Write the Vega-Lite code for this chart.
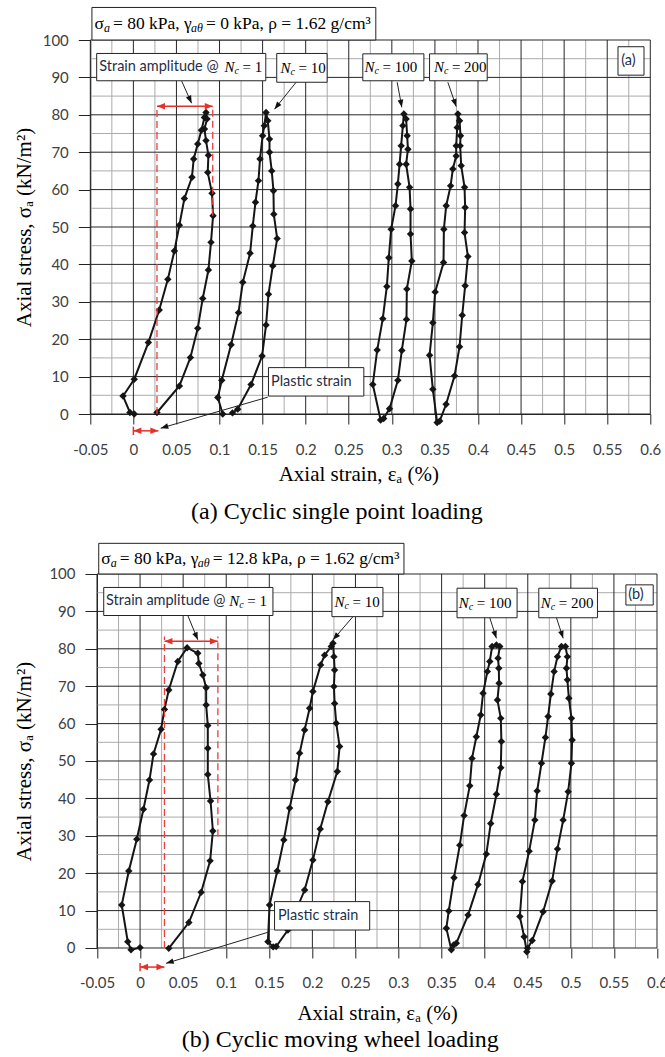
{
  "$schema": "https://vega.github.io/schema/vega-lite/v6.json",
  "padding": {"left": 12.3, "top": 6, "right": 0, "bottom": 0},
  "columns": 1,
  "spacing": 18,
  "align": "none",
  "config": {
    "view": {"stroke": null},
    "axis": {"grid": false, "labelFont": "Lato", "labelFontSize": 15, "labelColor": "#404040", "titleFont": "Liberation Serif", "titleFontSize": 21, "titleFontWeight": "normal", "titleColor": "#000000", "domainColor": "#222222", "tickColor": "#222222", "labelFlush": false, "labelOverlap": false},
    "axisX": {"tickSize": 10, "labelPadding": 18},
    "axisY": {"tickSize": 12, "labelPadding": 10},
    "title": {"font": "Liberation Serif", "fontSize": 24, "fontWeight": "normal", "color": "#000000"}
  },
  "datasets": {
    "grid": [
      {"k":"Mv","v":-0.05},{"k":"Mv","v":0},{"k":"Mv","v":0.05},{"k":"Mv","v":0.1},{"k":"Mv","v":0.15},{"k":"Mv","v":0.2},{"k":"Mv","v":0.25},{"k":"Mv","v":0.3},{"k":"Mv","v":0.35},{"k":"Mv","v":0.4},{"k":"Mv","v":0.45},{"k":"Mv","v":0.5},{"k":"Mv","v":0.55},{"k":"Mv","v":0.6},
      {"k":"mv","v":-0.025},{"k":"mv","v":0.025},{"k":"mv","v":0.075},{"k":"mv","v":0.125},{"k":"mv","v":0.175},{"k":"mv","v":0.225},{"k":"mv","v":0.275},{"k":"mv","v":0.325},{"k":"mv","v":0.375},{"k":"mv","v":0.425},{"k":"mv","v":0.475},{"k":"mv","v":0.525},{"k":"mv","v":0.575},
      {"k":"Mh","v":0},{"k":"Mh","v":10},{"k":"Mh","v":20},{"k":"Mh","v":30},{"k":"Mh","v":40},{"k":"Mh","v":50},{"k":"Mh","v":60},{"k":"Mh","v":70},{"k":"Mh","v":80},{"k":"Mh","v":90},{"k":"Mh","v":100},
      {"k":"mh","v":5},{"k":"mh","v":15},{"k":"mh","v":25},{"k":"mh","v":35},{"k":"mh","v":45},{"k":"mh","v":55},{"k":"mh","v":65},{"k":"mh","v":75},{"k":"mh","v":85},{"k":"mh","v":95}
    ],
    "curves": [
      {"p":"a","n":1,"i":0,"x":0.001,"y":0},{"p":"a","n":1,"i":1,"x":-0.004,"y":0.4},{"p":"a","n":1,"i":2,"x":-0.012,"y":4.8},{"p":"a","n":1,"i":3,"x":0.001,"y":9.3},{"p":"a","n":1,"i":4,"x":0.0174,"y":19.1},{"p":"a","n":1,"i":5,"x":0.030,"y":27.8},{"p":"a","n":1,"i":6,"x":0.040,"y":36.0},{"p":"a","n":1,"i":7,"x":0.0476,"y":43.6},{"p":"a","n":1,"i":8,"x":0.0534,"y":50.5},{"p":"a","n":1,"i":9,"x":0.0592,"y":57.6},{"p":"a","n":1,"i":10,"x":0.068,"y":63.3},{"p":"a","n":1,"i":11,"x":0.070,"y":68.2},{"p":"a","n":1,"i":12,"x":0.0747,"y":72.2},{"p":"a","n":1,"i":13,"x":0.079,"y":75.9},{"p":"a","n":1,"i":14,"x":0.0825,"y":79.3},{"p":"a","n":1,"i":15,"x":0.0843,"y":80.6},{"p":"a","n":1,"i":16,"x":0.0855,"y":78.9},{"p":"a","n":1,"i":17,"x":0.0825,"y":76.2},{"p":"a","n":1,"i":18,"x":0.0843,"y":73.1},{"p":"a","n":1,"i":19,"x":0.0871,"y":69.2},{"p":"a","n":1,"i":20,"x":0.0863,"y":64.6},{"p":"a","n":1,"i":21,"x":0.0913,"y":59.0},{"p":"a","n":1,"i":22,"x":0.0925,"y":53.0},{"p":"a","n":1,"i":23,"x":0.0901,"y":45.9},{"p":"a","n":1,"i":24,"x":0.0871,"y":38.5},{"p":"a","n":1,"i":25,"x":0.0805,"y":30.9},{"p":"a","n":1,"i":26,"x":0.0747,"y":22.9},{"p":"a","n":1,"i":27,"x":0.0662,"y":15.1},{"p":"a","n":1,"i":28,"x":0.0534,"y":7.5},{"p":"a","n":1,"i":29,"x":0.0274,"y":0.4},
      {"p":"a","n":10,"i":0,"x":0.1037,"y":0},{"p":"a","n":10,"i":1,"x":0.098,"y":4.4},{"p":"a","n":10,"i":2,"x":0.1026,"y":9.0},{"p":"a","n":10,"i":3,"x":0.1134,"y":18.5},{"p":"a","n":10,"i":4,"x":0.122,"y":27.1},{"p":"a","n":10,"i":5,"x":0.127,"y":35.2},{"p":"a","n":10,"i":6,"x":0.1355,"y":43.0},{"p":"a","n":10,"i":7,"x":0.1386,"y":50.3},{"p":"a","n":10,"i":8,"x":0.1417,"y":56.6},{"p":"a","n":10,"i":9,"x":0.1452,"y":62.4},{"p":"a","n":10,"i":10,"x":0.147,"y":68.2},{"p":"a","n":10,"i":11,"x":0.150,"y":74.4},{"p":"a","n":10,"i":12,"x":0.152,"y":77.1},{"p":"a","n":10,"i":13,"x":0.154,"y":80.6},{"p":"a","n":10,"i":14,"x":0.156,"y":78.4},{"p":"a","n":10,"i":15,"x":0.158,"y":73.5},{"p":"a","n":10,"i":16,"x":0.158,"y":70.0},{"p":"a","n":10,"i":17,"x":0.1606,"y":65.0},{"p":"a","n":10,"i":18,"x":0.1626,"y":59.7},{"p":"a","n":10,"i":19,"x":0.163,"y":53.4},{"p":"a","n":10,"i":20,"x":0.1669,"y":46.9},{"p":"a","n":10,"i":21,"x":0.1618,"y":39.6},{"p":"a","n":10,"i":22,"x":0.1568,"y":32.0},{"p":"a","n":10,"i":23,"x":0.154,"y":23.8},{"p":"a","n":10,"i":24,"x":0.1494,"y":15.5},{"p":"a","n":10,"i":25,"x":0.1366,"y":7.9},{"p":"a","n":10,"i":26,"x":0.1211,"y":1.3},{"p":"a","n":10,"i":27,"x":0.115,"y":0.3},
      {"p":"a","n":100,"i":0,"x":0.287,"y":-1.6},{"p":"a","n":100,"i":1,"x":0.2779,"y":7.9},{"p":"a","n":100,"i":2,"x":0.283,"y":17.1},{"p":"a","n":100,"i":3,"x":0.2895,"y":25.5},{"p":"a","n":100,"i":4,"x":0.2942,"y":34.1},{"p":"a","n":100,"i":5,"x":0.2965,"y":41.8},{"p":"a","n":100,"i":6,"x":0.2992,"y":49.4},{"p":"a","n":100,"i":7,"x":0.3043,"y":55.7},{"p":"a","n":100,"i":8,"x":0.307,"y":61.5},{"p":"a","n":100,"i":9,"x":0.309,"y":66.8},{"p":"a","n":100,"i":10,"x":0.3108,"y":71.7},{"p":"a","n":100,"i":11,"x":0.3128,"y":77.1},{"p":"a","n":100,"i":12,"x":0.314,"y":80.2},{"p":"a","n":100,"i":13,"x":0.3166,"y":78.9},{"p":"a","n":100,"i":14,"x":0.3178,"y":74.4},{"p":"a","n":100,"i":15,"x":0.3187,"y":70.8},{"p":"a","n":100,"i":16,"x":0.3166,"y":66.8},{"p":"a","n":100,"i":17,"x":0.3206,"y":60.6},{"p":"a","n":100,"i":18,"x":0.3217,"y":54.8},{"p":"a","n":100,"i":19,"x":0.3217,"y":48.1},{"p":"a","n":100,"i":20,"x":0.3232,"y":40.9},{"p":"a","n":100,"i":21,"x":0.3174,"y":33.4},{"p":"a","n":100,"i":22,"x":0.317,"y":25.3},{"p":"a","n":100,"i":23,"x":0.3116,"y":17.0},{"p":"a","n":100,"i":24,"x":0.307,"y":9.0},{"p":"a","n":100,"i":25,"x":0.2973,"y":1.4},{"p":"a","n":100,"i":26,"x":0.2905,"y":-1.2},
      {"p":"a","n":200,"i":0,"x":0.3526,"y":-2.3},{"p":"a","n":200,"i":1,"x":0.3476,"y":6.6},{"p":"a","n":200,"i":2,"x":0.3438,"y":15.7},{"p":"a","n":200,"i":3,"x":0.3476,"y":24.4},{"p":"a","n":200,"i":4,"x":0.3503,"y":32.6},{"p":"a","n":200,"i":5,"x":0.36,"y":40.5},{"p":"a","n":200,"i":6,"x":0.3604,"y":49.4},{"p":"a","n":200,"i":7,"x":0.3631,"y":55.7},{"p":"a","n":200,"i":8,"x":0.3682,"y":61.0},{"p":"a","n":200,"i":9,"x":0.3708,"y":65.5},{"p":"a","n":200,"i":10,"x":0.3747,"y":69.0},{"p":"a","n":200,"i":11,"x":0.3747,"y":71.7},{"p":"a","n":200,"i":12,"x":0.3759,"y":76.6},{"p":"a","n":200,"i":13,"x":0.3767,"y":80.2},{"p":"a","n":200,"i":14,"x":0.3786,"y":78.4},{"p":"a","n":200,"i":15,"x":0.3797,"y":74.4},{"p":"a","n":200,"i":16,"x":0.3793,"y":71.7},{"p":"a","n":200,"i":17,"x":0.3805,"y":66.4},{"p":"a","n":200,"i":18,"x":0.3844,"y":60.6},{"p":"a","n":200,"i":19,"x":0.3851,"y":55.2},{"p":"a","n":200,"i":20,"x":0.3844,"y":48.5},{"p":"a","n":200,"i":21,"x":0.3883,"y":42.1},{"p":"a","n":200,"i":22,"x":0.3851,"y":34.3},{"p":"a","n":200,"i":23,"x":0.3817,"y":26.4},{"p":"a","n":200,"i":24,"x":0.3786,"y":18.0},{"p":"a","n":200,"i":25,"x":0.3728,"y":10.2},{"p":"a","n":200,"i":26,"x":0.363,"y":2.6},{"p":"a","n":200,"i":27,"x":0.3555,"y":-1.9},
      {"p":"b","n":1,"i":0,"x":0,"y":0.1},{"p":"b","n":1,"i":1,"x":-0.0105,"y":-0.5},{"p":"b","n":1,"i":2,"x":-0.0143,"y":1.7},{"p":"b","n":1,"i":3,"x":-0.0213,"y":11.5},{"p":"b","n":1,"i":4,"x":-0.0131,"y":20.6},{"p":"b","n":1,"i":5,"x":-0.0038,"y":29.1},{"p":"b","n":1,"i":6,"x":0.0039,"y":37.1},{"p":"b","n":1,"i":7,"x":0.0109,"y":44.9},{"p":"b","n":1,"i":8,"x":0.0156,"y":51.9},{"p":"b","n":1,"i":9,"x":0.0244,"y":58.5},{"p":"b","n":1,"i":10,"x":0.0283,"y":63.8},{"p":"b","n":1,"i":11,"x":0.0333,"y":69.0},{"p":"b","n":1,"i":12,"x":0.0438,"y":76.6},{"p":"b","n":1,"i":13,"x":0.0546,"y":80.3},{"p":"b","n":1,"i":14,"x":0.067,"y":78.8},{"p":"b","n":1,"i":15,"x":0.0682,"y":76.1},{"p":"b","n":1,"i":16,"x":0.0728,"y":73.0},{"p":"b","n":1,"i":17,"x":0.0767,"y":69.6},{"p":"b","n":1,"i":18,"x":0.0767,"y":65.0},{"p":"b","n":1,"i":19,"x":0.0786,"y":59.5},{"p":"b","n":1,"i":20,"x":0.0786,"y":53.4},{"p":"b","n":1,"i":21,"x":0.0786,"y":46.4},{"p":"b","n":1,"i":22,"x":0.0818,"y":39.3},{"p":"b","n":1,"i":23,"x":0.0845,"y":31.3},{"p":"b","n":1,"i":24,"x":0.0813,"y":23.3},{"p":"b","n":1,"i":25,"x":0.0709,"y":14.9},{"p":"b","n":1,"i":26,"x":0.0566,"y":6.8},{"p":"b","n":1,"i":27,"x":0.0333,"y":-0.1},
      {"p":"b","n":10,"i":0,"x":0.1545,"y":0.3},{"p":"b","n":10,"i":1,"x":0.1484,"y":1.7},{"p":"b","n":10,"i":2,"x":0.1503,"y":11.5},{"p":"b","n":10,"i":3,"x":0.1592,"y":20.6},{"p":"b","n":10,"i":4,"x":0.1669,"y":28.9},{"p":"b","n":10,"i":5,"x":0.1736,"y":37.4},{"p":"b","n":10,"i":6,"x":0.1805,"y":44.9},{"p":"b","n":10,"i":7,"x":0.1852,"y":52.1},{"p":"b","n":10,"i":8,"x":0.191,"y":58.3},{"p":"b","n":10,"i":9,"x":0.1968,"y":64.1},{"p":"b","n":10,"i":10,"x":0.2006,"y":68.6},{"p":"b","n":10,"i":11,"x":0.2096,"y":75.7},{"p":"b","n":10,"i":12,"x":0.2142,"y":78.3},{"p":"b","n":10,"i":13,"x":0.2219,"y":80.6},{"p":"b","n":10,"i":14,"x":0.2239,"y":81.5},{"p":"b","n":10,"i":15,"x":0.225,"y":77.9},{"p":"b","n":10,"i":16,"x":0.2258,"y":74.3},{"p":"b","n":10,"i":17,"x":0.225,"y":69.9},{"p":"b","n":10,"i":18,"x":0.2258,"y":65.4},{"p":"b","n":10,"i":19,"x":0.2277,"y":60.1},{"p":"b","n":10,"i":20,"x":0.2316,"y":53.9},{"p":"b","n":10,"i":21,"x":0.2289,"y":47.2},{"p":"b","n":10,"i":22,"x":0.218,"y":39.1},{"p":"b","n":10,"i":23,"x":0.2091,"y":31.8},{"p":"b","n":10,"i":24,"x":0.2006,"y":23.5},{"p":"b","n":10,"i":25,"x":0.191,"y":15.5},{"p":"b","n":10,"i":26,"x":0.1716,"y":4.8},{"p":"b","n":10,"i":27,"x":0.158,"y":0.4},
      {"p":"b","n":100,"i":0,"x":0.3613,"y":-0.5},{"p":"b","n":100,"i":1,"x":0.3555,"y":5.3},{"p":"b","n":100,"i":2,"x":0.3583,"y":9.9},{"p":"b","n":100,"i":3,"x":0.3644,"y":18.8},{"p":"b","n":100,"i":4,"x":0.3711,"y":27.5},{"p":"b","n":100,"i":5,"x":0.3761,"y":35.4},{"p":"b","n":100,"i":6,"x":0.3827,"y":43.4},{"p":"b","n":100,"i":7,"x":0.3853,"y":50.7},{"p":"b","n":100,"i":8,"x":0.3903,"y":56.5},{"p":"b","n":100,"i":9,"x":0.3954,"y":62.3},{"p":"b","n":100,"i":10,"x":0.3981,"y":68.1},{"p":"b","n":100,"i":11,"x":0.4031,"y":73.9},{"p":"b","n":100,"i":12,"x":0.4059,"y":76.6},{"p":"b","n":100,"i":13,"x":0.4086,"y":80.6},{"p":"b","n":100,"i":14,"x":0.4136,"y":81.0},{"p":"b","n":100,"i":15,"x":0.4175,"y":80.6},{"p":"b","n":100,"i":16,"x":0.4155,"y":77.5},{"p":"b","n":100,"i":17,"x":0.4164,"y":74.8},{"p":"b","n":100,"i":18,"x":0.4167,"y":70.8},{"p":"b","n":100,"i":19,"x":0.4148,"y":66.3},{"p":"b","n":100,"i":20,"x":0.4187,"y":61.4},{"p":"b","n":100,"i":21,"x":0.4194,"y":55.2},{"p":"b","n":100,"i":22,"x":0.4187,"y":48.2},{"p":"b","n":100,"i":23,"x":0.4136,"y":41.1},{"p":"b","n":100,"i":24,"x":0.407,"y":33.3},{"p":"b","n":100,"i":25,"x":0.4019,"y":25.1},{"p":"b","n":100,"i":26,"x":0.3923,"y":17.0},{"p":"b","n":100,"i":27,"x":0.3807,"y":8.8},{"p":"b","n":100,"i":28,"x":0.3671,"y":1.3},{"p":"b","n":100,"i":29,"x":0.364,"y":0.8},
      {"p":"b","n":200,"i":0,"x":0.4489,"y":-1.0},{"p":"b","n":200,"i":1,"x":0.4458,"y":3.0},{"p":"b","n":200,"i":2,"x":0.4408,"y":8.4},{"p":"b","n":200,"i":3,"x":0.4438,"y":17.8},{"p":"b","n":200,"i":4,"x":0.4516,"y":25.9},{"p":"b","n":200,"i":5,"x":0.4582,"y":34.2},{"p":"b","n":200,"i":6,"x":0.4609,"y":42.0},{"p":"b","n":200,"i":7,"x":0.4659,"y":49.4},{"p":"b","n":200,"i":8,"x":0.4705,"y":56.3},{"p":"b","n":200,"i":9,"x":0.4736,"y":61.9},{"p":"b","n":200,"i":10,"x":0.4768,"y":67.9},{"p":"b","n":200,"i":11,"x":0.4806,"y":73.9},{"p":"b","n":200,"i":12,"x":0.4845,"y":77.9},{"p":"b","n":200,"i":13,"x":0.4891,"y":80.6},{"p":"b","n":200,"i":14,"x":0.4937,"y":80.6},{"p":"b","n":200,"i":15,"x":0.496,"y":77.9},{"p":"b","n":200,"i":16,"x":0.4949,"y":74.8},{"p":"b","n":200,"i":17,"x":0.496,"y":71.7},{"p":"b","n":200,"i":18,"x":0.4977,"y":66.8},{"p":"b","n":200,"i":19,"x":0.5007,"y":61.4},{"p":"b","n":200,"i":20,"x":0.5015,"y":55.6},{"p":"b","n":200,"i":21,"x":0.5007,"y":49.4},{"p":"b","n":200,"i":22,"x":0.4969,"y":41.8},{"p":"b","n":200,"i":23,"x":0.4911,"y":34.2},{"p":"b","n":200,"i":24,"x":0.4845,"y":26.5},{"p":"b","n":200,"i":25,"x":0.4783,"y":17.9},{"p":"b","n":200,"i":26,"x":0.4678,"y":9.7},{"p":"b","n":200,"i":27,"x":0.4551,"y":2.0},{"p":"b","n":200,"i":28,"x":0.4497,"y":-0.1}
    ],
    "boxes": [
      {"p":"a","x":-0.0481,"x2":0.2814,"y":100,"y2":108.7},
      {"p":"a","x":-0.0426,"x2":0.1537,"y":89.1,"y2":96.4},
      {"p":"a","x":0.1664,"x2":0.2249,"y":88.7,"y2":96.4},
      {"p":"a","x":0.2663,"x2":0.3372,"y":89.1,"y2":96.3},
      {"p":"a","x":0.3438,"x2":0.4107,"y":89.1,"y2":96.3},
      {"p":"a","x":0.5625,"x2":0.5927,"y":90.6,"y2":98.2},
      {"p":"a","x":0.1568,"x2":0.2675,"y":4.8,"y2":12.4},
      {"p":"b","x":-0.048,"x2":0.3063,"y":100,"y2":108.2},
      {"p":"b","x":-0.0422,"x2":0.1542,"y":88.9,"y2":96.4},
      {"p":"b","x":0.2227,"x2":0.2819,"y":88.6,"y2":96.4},
      {"p":"b","x":0.3679,"x2":0.4376,"y":88.3,"y2":96.2},
      {"p":"b","x":0.4628,"x2":0.5309,"y":88.3,"y2":96.2},
      {"p":"b","x":0.5639,"x2":0.5956,"y":91.7,"y2":97.1},
      {"p":"b","x":0.1561,"x2":0.2665,"y":4.8,"y2":12.4}
    ],
    "nlab": [
      {"p":"a","x":0.1057,"y":92.75,"t":"= 1"},
      {"p":"a","x":0.1707,"y":92.55,"t":"= 10"},
      {"p":"a","x":0.2683,"y":92.7,"t":"= 100"},
      {"p":"a","x":0.3488,"y":92.7,"t":"= 200"},
      {"p":"b","x":0.1035,"y":92.65,"t":"= 1"},
      {"p":"b","x":0.2258,"y":92.5,"t":"= 10"},
      {"p":"b","x":0.3699,"y":92.25,"t":"= 100"},
      {"p":"b","x":0.4651,"y":92.25,"t":"= 200"}
    ],
    "stext": [
      {"p":"a","x":-0.0396,"y":92.75,"t":"Strain amplitude @"},
      {"p":"a","x":0.5663,"y":94.4,"t":"(a)"},
      {"p":"a","x":0.1598,"y":8.6,"t":"Plastic strain"},
      {"p":"b","x":-0.0395,"y":92.65,"t":"Strain amplitude @"},
      {"p":"b","x":0.5666,"y":94.4,"t":"(b)"},
      {"p":"b","x":0.16,"y":8.6,"t":"Plastic strain"}
    ],
    "param": [
      {"p":"a","x":-0.0481,"y":104.35,"t":"= 0 kPa, ρ = 1.62 g/cm³"},
      {"p":"b","x":-0.048,"y":104.1,"t":"= 12.8 kPa, ρ = 1.62 g/cm³"}
    ],
    "arrows": [
      {"p":"a","x":0.0561,"y":89.0,"x2":0.0676,"y2":83.1},
      {"p":"a","x":0.1889,"y":88.7,"x2":0.1638,"y2":81.5},
      {"p":"a","x":0.3062,"y":88.7,"x2":0.3116,"y2":82.0},
      {"p":"a","x":0.365,"y":88.7,"x2":0.3747,"y2":82.2},
      {"p":"a","x":0.156,"y":4.5,"x2":0.0317,"y2":-3.8},
      {"p":"b","x":0.0554,"y":88.9,"x2":0.067,"y2":82.4},
      {"p":"b","x":0.2471,"y":88.6,"x2":0.2239,"y2":82.4},
      {"p":"b","x":0.4059,"y":88.3,"x2":0.4136,"y2":82.8},
      {"p":"b","x":0.4833,"y":88.3,"x2":0.4911,"y2":82.8},
      {"p":"b","x":0.1483,"y":4.2,"x2":0.0302,"y2":-4.1}
    ],
    "dashes": [
      {"p":"a","x":0.0274,"y":0,"y2":82.3},
      {"p":"a","x":0.0921,"y":53,"y2":82.3},
      {"p":"b","x":0.0283,"y":0,"y2":83.3},
      {"p":"b","x":0.0903,"y":29.9,"y2":83.3}
    ],
    "spans": [
      {"p":"a","k":"top","x":0.0274,"x2":0.0921,"y":82.3},
      {"p":"a","k":"bot","x":0,"x2":0.029,"y":-4.5},
      {"p":"b","k":"top","x":0.0283,"x2":0.0903,"y":82.0},
      {"p":"b","k":"bot","x":0,"x2":0.0283,"y":-5.1}
    ]
  },
  "concat": [
    {
      "width": 560, "height": 374,
      "title": {"text": "(a) Cyclic single point loading", "orient": "bottom", "anchor": "middle", "frame": "bounds", "offset": 16},
      "resolve": {"axis": {"x": "independent", "y": "independent"}},
      "layer": [
        {"data": {"name": "grid"}, "transform": [{"filter": "datum.k=='mv'"}],
         "mark": {"type": "rule", "color": "#ababab", "strokeWidth": 1},
         "encoding": {"x": {"field": "v", "type": "quantitative", "scale": {"domain": [-0.05, 0.6], "nice": false, "zero": false}, "axis": null}}},
        {"data": {"name": "grid"}, "transform": [{"filter": "datum.k=='mh'"}],
         "mark": {"type": "rule", "color": "#ababab", "strokeWidth": 1},
         "encoding": {"y": {"field": "v", "type": "quantitative", "scale": {"domain": [0, 100], "nice": false, "zero": false}, "axis": null}}},
        {"data": {"name": "grid"}, "transform": [{"filter": "datum.k=='Mv'"}],
         "mark": {"type": "rule", "color": "#262626", "strokeWidth": 1},
         "encoding": {"x": {"field": "v", "type": "quantitative", "axis": null}}},
        {"data": {"name": "grid"}, "transform": [{"filter": "datum.k=='Mh'"}],
         "mark": {"type": "rule", "color": "#262626", "strokeWidth": 1},
         "encoding": {"y": {"field": "v", "type": "quantitative", "axis": null}}},
        {"data": {"name": "curves"}, "transform": [{"filter": "datum.p=='a'"}],
         "mark": {"type": "line", "color": "#151515", "strokeWidth": 2, "clip": false},
         "encoding": {
           "x": {"field": "x", "type": "quantitative", "scale": {"domain": [-0.05, 0.6], "nice": false, "zero": false},
             "axis": {"title": "Axial strain, εₐ (%)", "values": [-0.05,0,0.05,0.1,0.15,0.2,0.25,0.3,0.35,0.4,0.45,0.5,0.55,0.6],
               "labelExpr": "'' + round(datum.value*100)/100", "grid": false, "ticks": true,
               "tickSize": 10, "labelPadding": 18, "titlePadding": 6, "titleX": 268, "labelOverlap": false, "labelFlush": false}},
           "y": {"field": "y", "type": "quantitative", "scale": {"domain": [0, 100], "nice": false, "zero": false},
             "axis": {"title": "Axial stress, σₐ (kN/m²)", "values": [0,10,20,30,40,50,60,70,80,90,100], "grid": false, "ticks": true,
               "tickSize": 12, "labelPadding": 10, "titlePadding": 8, "labelOverlap": false}},
           "order": {"field": "i", "type": "quantitative"},
           "detail": {"field": "n", "type": "nominal"}
         }},
        {"data": {"name": "curves"}, "transform": [{"filter": "datum.p=='a'"}],
         "mark": {"type": "point", "shape": "diamond", "filled": true, "size": 55, "color": "#151515", "opacity": 1, "clip": false},
         "encoding": {"x": {"field": "x", "type": "quantitative", "axis": null}, "y": {"field": "y", "type": "quantitative", "axis": null}}},
        {"data": {"name": "dashes"}, "transform": [{"filter": "datum.p=='a'"}],
         "mark": {"type": "rule", "color": "#e8403a", "strokeWidth": 1.3, "strokeDash": [7, 4], "clip": false},
         "encoding": {"x": {"field": "x", "type": "quantitative", "axis": null}, "y": {"field": "y", "type": "quantitative", "axis": null}, "y2": {"field": "y2"}}},
        {"data": {"name": "spans"}, "transform": [{"filter": "datum.p=='a'"}],
         "mark": {"type": "rule", "color": "#e8302a", "strokeWidth": 1.5, "clip": false},
         "encoding": {"x": {"field": "x", "type": "quantitative", "axis": null}, "x2": {"field": "x2"}, "y": {"field": "y", "type": "quantitative", "axis": null}}},
        {"data": {"name": "spans"}, "transform": [{"filter": "datum.p=='a'"}],
         "mark": {"type": "point", "shape": "M0,0L-0.65,1.6L0.65,1.6Z", "filled": true, "color": "#e8302a", "opacity": 1, "size": 100, "angle": 270, "clip": false},
         "encoding": {"x": {"field": "x", "type": "quantitative", "axis": null}, "y": {"field": "y", "type": "quantitative", "axis": null}}},
        {"data": {"name": "spans"}, "transform": [{"filter": "datum.p=='a'"}],
         "mark": {"type": "point", "shape": "M0,0L-0.65,1.6L0.65,1.6Z", "filled": true, "color": "#e8302a", "opacity": 1, "size": 100, "angle": 90, "clip": false},
         "encoding": {"x": {"field": "x2", "type": "quantitative", "axis": null}, "y": {"field": "y", "type": "quantitative", "axis": null}}},
        {"data": {"name": "spans"}, "transform": [{"filter": "datum.p=='a' && datum.k=='bot'"}],
         "mark": {"type": "point", "shape": "M0,-1L0,1", "filled": false, "color": "#e8302a", "strokeWidth": 1.5, "opacity": 1, "size": 70, "clip": false},
         "encoding": {"x": {"field": "x", "type": "quantitative", "axis": null}, "y": {"field": "y", "type": "quantitative", "axis": null}}},
        {"data": {"name": "boxes"}, "transform": [{"filter": "datum.p=='a'"}],
         "mark": {"type": "rect", "fill": "#ffffff", "stroke": "#222222", "strokeWidth": 1, "clip": false},
         "encoding": {"x": {"field": "x", "type": "quantitative", "axis": null}, "x2": {"field": "x2"}, "y": {"field": "y", "type": "quantitative", "axis": null}, "y2": {"field": "y2"}}},
        {"data": {"name": "arrows"}, "transform": [{"filter": "datum.p=='a'"}],
         "mark": {"type": "rule", "color": "#222222", "strokeWidth": 1, "clip": false},
         "encoding": {"x": {"field": "x", "type": "quantitative", "axis": null}, "x2": {"field": "x2"}, "y": {"field": "y", "type": "quantitative", "axis": null}, "y2": {"field": "y2"}}},
        {"data": {"name": "arrows"}, "transform": [{"filter": "datum.p=='a'"}, {"calculate": "atan2((datum.x2-datum.x)*861, (datum.y2-datum.y)*3.74)*180/PI", "as": "ang"}],
         "mark": {"type": "point", "shape": "M0,0L-0.6,1.6L0.6,1.6Z", "filled": true, "color": "#111111", "opacity": 1, "size": 90, "clip": false},
         "encoding": {"x": {"field": "x2", "type": "quantitative", "axis": null}, "y": {"field": "y2", "type": "quantitative", "axis": null},
           "angle": {"field": "ang", "type": "quantitative", "scale": null}}},
        {"data": {"name": "stext"}, "transform": [{"filter": "datum.p=='a'"}],
         "mark": {"type": "text", "font": "Lato", "fontSize": 14.5, "color": "#1f2f4a", "align": "left", "baseline": "middle", "clip": false},
         "encoding": {"x": {"field": "x", "type": "quantitative", "axis": null}, "y": {"field": "y", "type": "quantitative", "axis": null}, "text": {"field": "t"}}},
        {"data": {"name": "nlab"}, "transform": [{"filter": "datum.p=='a'"}],
         "mark": {"type": "text", "text": "N", "font": "Liberation Serif", "fontStyle": "italic", "fontSize": 15, "color": "#000000", "align": "left", "baseline": "middle", "clip": false},
         "encoding": {"x": {"field": "x", "type": "quantitative", "axis": null}, "y": {"field": "y", "type": "quantitative", "axis": null}}},
        {"data": {"name": "nlab"}, "transform": [{"filter": "datum.p=='a'"}],
         "mark": {"type": "text", "text": "c", "font": "Liberation Serif", "fontStyle": "italic", "fontSize": 10, "color": "#000000", "align": "left", "baseline": "middle", "dx": 10, "dy": 4, "clip": false},
         "encoding": {"x": {"field": "x", "type": "quantitative", "axis": null}, "y": {"field": "y", "type": "quantitative", "axis": null}}},
        {"data": {"name": "nlab"}, "transform": [{"filter": "datum.p=='a'"}],
         "mark": {"type": "text", "font": "Liberation Serif", "fontSize": 15, "color": "#000000", "align": "left", "baseline": "middle", "dx": 18, "clip": false},
         "encoding": {"x": {"field": "x", "type": "quantitative", "axis": null}, "y": {"field": "y", "type": "quantitative", "axis": null}, "text": {"field": "t"}}},
        {"data": {"name": "param"}, "transform": [{"filter": "datum.p=='a'"}],
         "mark": {"type": "text", "text": "σ", "font": "Liberation Serif", "fontSize": 17.5, "color": "#000000", "align": "left", "baseline": "middle", "dx": 2.5, "clip": false},
         "encoding": {"x": {"field": "x", "type": "quantitative", "axis": null}, "y": {"field": "y", "type": "quantitative", "axis": null}}},
        {"data": {"name": "param"}, "transform": [{"filter": "datum.p=='a'"}],
         "mark": {"type": "text", "text": "a", "font": "Liberation Serif", "fontStyle": "italic", "fontSize": 12, "color": "#000000", "align": "left", "baseline": "middle", "dx": 12, "dy": 4.5, "clip": false},
         "encoding": {"x": {"field": "x", "type": "quantitative", "axis": null}, "y": {"field": "y", "type": "quantitative", "axis": null}}},
        {"data": {"name": "param"}, "transform": [{"filter": "datum.p=='a'"}],
         "mark": {"type": "text", "text": "= 80 kPa, γ", "font": "Liberation Serif", "fontSize": 17.5, "color": "#000000", "align": "left", "baseline": "middle", "dx": 21, "clip": false},
         "encoding": {"x": {"field": "x", "type": "quantitative", "axis": null}, "y": {"field": "y", "type": "quantitative", "axis": null}}},
        {"data": {"name": "param"}, "transform": [{"filter": "datum.p=='a'"}],
         "mark": {"type": "text", "text": "aθ", "font": "Liberation Serif", "fontStyle": "italic", "fontSize": 12, "color": "#000000", "align": "left", "baseline": "middle", "dx": 99, "dy": 4.5, "clip": false},
         "encoding": {"x": {"field": "x", "type": "quantitative", "axis": null}, "y": {"field": "y", "type": "quantitative", "axis": null}}},
        {"data": {"name": "param"}, "transform": [{"filter": "datum.p=='a'"}],
         "mark": {"type": "text", "font": "Liberation Serif", "fontSize": 17.5, "color": "#000000", "align": "left", "baseline": "middle", "dx": 114, "clip": false},
         "encoding": {"x": {"field": "x", "type": "quantitative", "axis": null}, "y": {"field": "y", "type": "quantitative", "axis": null}, "text": {"field": "t"}}}
      ]
    },
    {
      "width": 566.7, "height": 374,
      "title": {"text": "(b) Cyclic moving wheel loading", "orient": "bottom", "anchor": "middle", "frame": "bounds", "offset": 4},
      "resolve": {"axis": {"x": "independent", "y": "independent"}},
      "layer": [
        {"data": {"name": "grid"}, "transform": [{"filter": "datum.k=='mv'"}],
         "mark": {"type": "rule", "color": "#ababab", "strokeWidth": 1},
         "encoding": {"x": {"field": "v", "type": "quantitative", "scale": {"domain": [-0.05, 0.6], "range": [6.7, 566.7], "nice": false, "zero": false}, "axis": null}}},
        {"data": {"name": "grid"}, "transform": [{"filter": "datum.k=='mh'"}],
         "mark": {"type": "rule", "color": "#ababab", "strokeWidth": 1},
         "encoding": {"y": {"field": "v", "type": "quantitative", "scale": {"domain": [0, 100], "nice": false, "zero": false}, "axis": null},
           "x": {"datum": -0.05, "type": "quantitative", "axis": null}, "x2": {"datum": 0.6}}},
        {"data": {"name": "grid"}, "transform": [{"filter": "datum.k=='Mv'"}],
         "mark": {"type": "rule", "color": "#262626", "strokeWidth": 1},
         "encoding": {"x": {"field": "v", "type": "quantitative", "axis": null}}},
        {"data": {"name": "grid"}, "transform": [{"filter": "datum.k=='Mh'"}],
         "mark": {"type": "rule", "color": "#262626", "strokeWidth": 1},
         "encoding": {"y": {"field": "v", "type": "quantitative", "axis": null},
           "x": {"datum": -0.05, "type": "quantitative", "axis": null}, "x2": {"datum": 0.6}}},
        {"data": {"name": "curves"}, "transform": [{"filter": "datum.p=='b'"}],
         "mark": {"type": "line", "color": "#151515", "strokeWidth": 2, "clip": false},
         "encoding": {
           "x": {"field": "x", "type": "quantitative", "scale": {"domain": [-0.05, 0.6], "range": [6.7, 566.7], "nice": false, "zero": false},
             "axis": {"title": "Axial strain, εₐ (%)", "values": [-0.05,0,0.05,0.1,0.15,0.2,0.25,0.3,0.35,0.4,0.45,0.5,0.55,0.6],
               "labelExpr": "'' + round(datum.value*100)/100", "grid": false, "ticks": true, "domain": false,
               "tickSize": 10, "labelPadding": 18, "titlePadding": 12, "labelOverlap": false, "labelFlush": false}},
           "y": {"field": "y", "type": "quantitative", "scale": {"domain": [0, 100], "nice": false, "zero": false},
             "axis": {"title": "Axial stress, σₐ (kN/m²)", "values": [0,10,20,30,40,50,60,70,80,90,100], "grid": false, "ticks": true, "offset": -6.7,
               "tickSize": 12, "labelPadding": 10, "titlePadding": 14.7, "labelOverlap": false}},
           "order": {"field": "i", "type": "quantitative"},
           "detail": {"field": "n", "type": "nominal"}
         }},
        {"data": {"name": "curves"}, "transform": [{"filter": "datum.p=='b'"}],
         "mark": {"type": "point", "shape": "diamond", "filled": true, "size": 55, "color": "#151515", "opacity": 1, "clip": false},
         "encoding": {"x": {"field": "x", "type": "quantitative", "axis": null}, "y": {"field": "y", "type": "quantitative", "axis": null}}},
        {"data": {"name": "dashes"}, "transform": [{"filter": "datum.p=='b'"}],
         "mark": {"type": "rule", "color": "#e8403a", "strokeWidth": 1.3, "strokeDash": [7, 4], "clip": false},
         "encoding": {"x": {"field": "x", "type": "quantitative", "axis": null}, "y": {"field": "y", "type": "quantitative", "axis": null}, "y2": {"field": "y2"}}},
        {"data": {"name": "spans"}, "transform": [{"filter": "datum.p=='b'"}],
         "mark": {"type": "rule", "color": "#e8302a", "strokeWidth": 1.5, "clip": false},
         "encoding": {"x": {"field": "x", "type": "quantitative", "axis": null}, "x2": {"field": "x2"}, "y": {"field": "y", "type": "quantitative", "axis": null}}},
        {"data": {"name": "spans"}, "transform": [{"filter": "datum.p=='b'"}],
         "mark": {"type": "point", "shape": "M0,0L-0.65,1.6L0.65,1.6Z", "filled": true, "color": "#e8302a", "opacity": 1, "size": 100, "angle": 270, "clip": false},
         "encoding": {"x": {"field": "x", "type": "quantitative", "axis": null}, "y": {"field": "y", "type": "quantitative", "axis": null}}},
        {"data": {"name": "spans"}, "transform": [{"filter": "datum.p=='b'"}],
         "mark": {"type": "point", "shape": "M0,0L-0.65,1.6L0.65,1.6Z", "filled": true, "color": "#e8302a", "opacity": 1, "size": 100, "angle": 90, "clip": false},
         "encoding": {"x": {"field": "x2", "type": "quantitative", "axis": null}, "y": {"field": "y", "type": "quantitative", "axis": null}}},
        {"data": {"name": "spans"}, "transform": [{"filter": "datum.p=='b' && datum.k=='bot'"}],
         "mark": {"type": "point", "shape": "M0,-1L0,1", "filled": false, "color": "#e8302a", "strokeWidth": 1.5, "opacity": 1, "size": 70, "clip": false},
         "encoding": {"x": {"field": "x", "type": "quantitative", "axis": null}, "y": {"field": "y", "type": "quantitative", "axis": null}}},
        {"data": {"name": "boxes"}, "transform": [{"filter": "datum.p=='b'"}],
         "mark": {"type": "rect", "fill": "#ffffff", "stroke": "#222222", "strokeWidth": 1, "clip": false},
         "encoding": {"x": {"field": "x", "type": "quantitative", "axis": null}, "x2": {"field": "x2"}, "y": {"field": "y", "type": "quantitative", "axis": null}, "y2": {"field": "y2"}}},
        {"data": {"name": "arrows"}, "transform": [{"filter": "datum.p=='b'"}],
         "mark": {"type": "rule", "color": "#222222", "strokeWidth": 1, "clip": false},
         "encoding": {"x": {"field": "x", "type": "quantitative", "axis": null}, "x2": {"field": "x2"}, "y": {"field": "y", "type": "quantitative", "axis": null}, "y2": {"field": "y2"}}},
        {"data": {"name": "arrows"}, "transform": [{"filter": "datum.p=='b'"}, {"calculate": "atan2((datum.x2-datum.x)*861, (datum.y2-datum.y)*3.74)*180/PI", "as": "ang"}],
         "mark": {"type": "point", "shape": "M0,0L-0.6,1.6L0.6,1.6Z", "filled": true, "color": "#111111", "opacity": 1, "size": 90, "clip": false},
         "encoding": {"x": {"field": "x2", "type": "quantitative", "axis": null}, "y": {"field": "y2", "type": "quantitative", "axis": null},
           "angle": {"field": "ang", "type": "quantitative", "scale": null}}},
        {"data": {"name": "stext"}, "transform": [{"filter": "datum.p=='b'"}],
         "mark": {"type": "text", "font": "Lato", "fontSize": 14.5, "color": "#1f2f4a", "align": "left", "baseline": "middle", "clip": false},
         "encoding": {"x": {"field": "x", "type": "quantitative", "axis": null}, "y": {"field": "y", "type": "quantitative", "axis": null}, "text": {"field": "t"}}},
        {"data": {"name": "nlab"}, "transform": [{"filter": "datum.p=='b'"}],
         "mark": {"type": "text", "text": "N", "font": "Liberation Serif", "fontStyle": "italic", "fontSize": 15, "color": "#000000", "align": "left", "baseline": "middle", "clip": false},
         "encoding": {"x": {"field": "x", "type": "quantitative", "axis": null}, "y": {"field": "y", "type": "quantitative", "axis": null}}},
        {"data": {"name": "nlab"}, "transform": [{"filter": "datum.p=='b'"}],
         "mark": {"type": "text", "text": "c", "font": "Liberation Serif", "fontStyle": "italic", "fontSize": 10, "color": "#000000", "align": "left", "baseline": "middle", "dx": 10, "dy": 4, "clip": false},
         "encoding": {"x": {"field": "x", "type": "quantitative", "axis": null}, "y": {"field": "y", "type": "quantitative", "axis": null}}},
        {"data": {"name": "nlab"}, "transform": [{"filter": "datum.p=='b'"}],
         "mark": {"type": "text", "font": "Liberation Serif", "fontSize": 15, "color": "#000000", "align": "left", "baseline": "middle", "dx": 18, "clip": false},
         "encoding": {"x": {"field": "x", "type": "quantitative", "axis": null}, "y": {"field": "y", "type": "quantitative", "axis": null}, "text": {"field": "t"}}},
        {"data": {"name": "param"}, "transform": [{"filter": "datum.p=='b'"}],
         "mark": {"type": "text", "text": "σ", "font": "Liberation Serif", "fontSize": 17.5, "color": "#000000", "align": "left", "baseline": "middle", "dx": 2.5, "clip": false},
         "encoding": {"x": {"field": "x", "type": "quantitative", "axis": null}, "y": {"field": "y", "type": "quantitative", "axis": null}}},
        {"data": {"name": "param"}, "transform": [{"filter": "datum.p=='b'"}],
         "mark": {"type": "text", "text": "a", "font": "Liberation Serif", "fontStyle": "italic", "fontSize": 12, "color": "#000000", "align": "left", "baseline": "middle", "dx": 12, "dy": 4.5, "clip": false},
         "encoding": {"x": {"field": "x", "type": "quantitative", "axis": null}, "y": {"field": "y", "type": "quantitative", "axis": null}}},
        {"data": {"name": "param"}, "transform": [{"filter": "datum.p=='b'"}],
         "mark": {"type": "text", "text": "= 80 kPa, γ", "font": "Liberation Serif", "fontSize": 17.5, "color": "#000000", "align": "left", "baseline": "middle", "dx": 21, "clip": false},
         "encoding": {"x": {"field": "x", "type": "quantitative", "axis": null}, "y": {"field": "y", "type": "quantitative", "axis": null}}},
        {"data": {"name": "param"}, "transform": [{"filter": "datum.p=='b'"}],
         "mark": {"type": "text", "text": "aθ", "font": "Liberation Serif", "fontStyle": "italic", "fontSize": 12, "color": "#000000", "align": "left", "baseline": "middle", "dx": 99, "dy": 4.5, "clip": false},
         "encoding": {"x": {"field": "x", "type": "quantitative", "axis": null}, "y": {"field": "y", "type": "quantitative", "axis": null}}},
        {"data": {"name": "param"}, "transform": [{"filter": "datum.p=='b'"}],
         "mark": {"type": "text", "font": "Liberation Serif", "fontSize": 17.5, "color": "#000000", "align": "left", "baseline": "middle", "dx": 114, "clip": false},
         "encoding": {"x": {"field": "x", "type": "quantitative", "axis": null}, "y": {"field": "y", "type": "quantitative", "axis": null}, "text": {"field": "t"}}}
      ]
    }
  ]
}
